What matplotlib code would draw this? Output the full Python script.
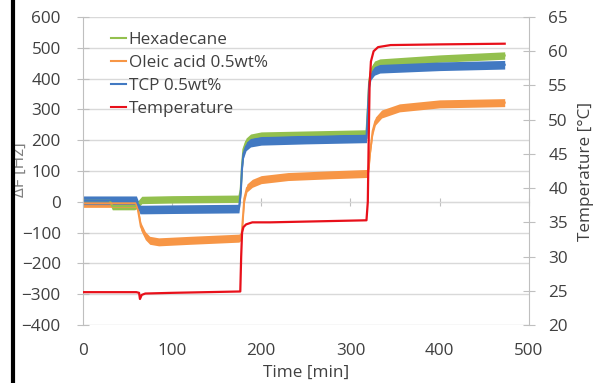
import matplotlib
matplotlib.use("Agg")
import matplotlib.pyplot as plt
from matplotlib.lines import Line2D
import numpy as np

plt.rcParams["font.family"] = ["Open Sans", "DejaVu Sans"]

# --- data ----------------------------------------------------------------
hexa_t = [0, 30, 33, 58, 62, 66, 100, 175, 177, 178.5, 180, 183, 188, 200, 250, 318,
          319.5, 321, 323, 327, 333, 400, 473]
hexa_v = [5, 5, -14, -14, -8, 6, 8, 10, 40, 120, 170, 195, 208, 215, 218, 222,
          300, 390, 425, 445, 452, 465, 475]

oleic_t = [0, 60, 62, 65, 70, 75, 85, 120, 175, 178, 179.5, 181, 184, 190, 200, 230,
           280, 319, 320.5, 322, 325, 328, 335, 355, 400, 473]
oleic_v = [-5, -5, -30, -80, -110, -125, -130, -125, -118, -110, -50, 10, 45, 60, 72, 82,
           88, 92, 110, 160, 230, 262, 285, 305, 318, 322]

tcp_t = [0, 60, 62, 64, 70, 100, 175, 177, 178.5, 180, 183, 188, 200, 250, 318,
         319.5, 321, 323, 327, 333, 400, 473]
tcp_v = [5, 5, -10, -25, -25, -24, -22, 30, 110, 155, 180, 192, 198, 202, 206,
         290, 380, 410, 425, 432, 440, 445]

temp_t = [0, 60, 63, 64, 66, 70, 100, 176.5, 177.5, 178.5, 180, 183, 190, 210, 318,
          319.5, 320.5, 321.5, 323, 326, 331, 345, 400, 473]
temp_v = [24.8, 24.8, 24.7, 23.8, 24.4, 24.6, 24.7, 24.9, 30, 33.5, 34.3, 34.7, 35.0, 35.0, 35.3,
          38, 47, 55, 58.5, 60.0, 60.6, 60.9, 61.0, 61.1]

# half-width of the noise band of each QCM trace [Hz]
hexa_spread = 12
oleic_spread = 13
tcp_spread = 14

labels = ["Hexadecane", "Oleic acid 0.5wt%", "TCP 0.5wt%", "Temperature"]
colors = ["#93C04E", "#F79646", "#4279C2", "#E8101A"]

TXT = "#404040"
GRID = "#D9D9D9"
SPINE = "#BFBFBF"
FS = 12.3

fig = plt.figure(figsize=(6.05, 3.83), dpi=100)
ax = fig.add_axes([0.137, 0.1514, 0.737, 0.8042])

series = [(hexa_t, hexa_v, hexa_spread, colors[0]),
          (oleic_t, oleic_v, oleic_spread, colors[1]),
          (tcp_t, tcp_v, tcp_spread, colors[2])]
for (t, v, s, c), lbl in zip(series, labels):
    t = np.asarray(t, float)
    v = np.asarray(v, float)
    ax.fill_between(t, v - s, v + s, color=c, lw=0)
    ax.plot(t, v, color=c, lw=1.5, label=lbl)

ax.set_xlim(0, 500)
ax.set_ylim(-400, 600)
ax.set_xticks(range(0, 501, 100))
ax.set_yticks(range(-400, 601, 100))
ax.grid(axis="y", color=GRID, lw=1)
ax.set_axisbelow(True)
for side in ["top", "bottom", "right"]:
    ax.spines[side].set_visible(False)
ax.spines["left"].set_color(SPINE)
ax.tick_params(axis="y", direction="inout", length=8, color=SPINE, labelsize=FS,
               labelcolor=TXT, pad=12)
ax.tick_params(axis="x", length=0, labelsize=FS, labelcolor=TXT, pad=13)
ax.set_xlabel("Time [min]", fontsize=FS, color=TXT, labelpad=4)

# horizontal axis crosses at dF = 0 (Excel style), labels stay at the bottom
sec = ax.secondary_xaxis(0.4)
sec.spines["bottom"].set_color(SPINE)
sec.tick_params(direction="inout", length=6, color=SPINE, labelbottom=False)
sec.set_xticks(range(0, 501, 100))

ax2 = ax.twinx()
ax2.plot(temp_t, temp_v, color=colors[3], lw=1.6)
ax2.set_ylim(20, 65)
ax2.set_yticks(range(20, 66, 5))
for side in ["top", "bottom", "left"]:
    ax2.spines[side].set_visible(False)
ax2.spines["right"].set_color(SPINE)
ax2.tick_params(axis="y", direction="inout", length=8, color=SPINE, labelsize=FS,
                labelcolor=TXT, pad=10)
ax2.set_ylabel("Temperature [°C]", fontsize=FS, color=TXT, labelpad=7)

handles = [Line2D([], [], color=c, lw=1.5) for c in colors]
ax.legend(handles, labels, loc="upper left", bbox_to_anchor=(0.047, 0.975),
          frameon=False, fontsize=FS, handlelength=0.9, handletextpad=0.15,
          labelspacing=0.42, borderaxespad=0, labelcolor=TXT)

fig.text(20 / 605, 1 - 170 / 383, "ΔF [Hz]", rotation=90, ha="center", va="center",
         fontsize=FS, color="#7F7F7F")
fig.add_artist(Line2D([13 / 605, 13 / 605], [0, 1], transform=fig.transFigure,
                      color="black", lw=3, zorder=10))

fig.savefig("out.png", dpi=100, facecolor="white")
